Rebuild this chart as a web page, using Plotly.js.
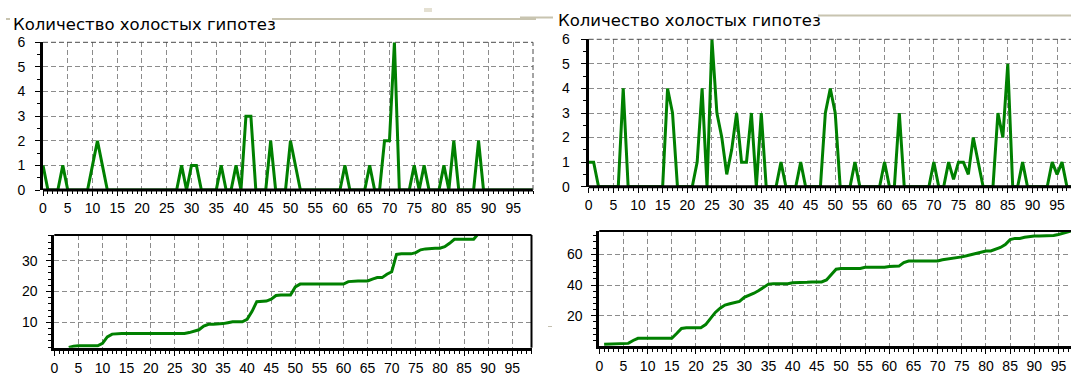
<!DOCTYPE html>
<html>
<head>
<meta charset="utf-8">
<script src="https://cdn.plot.ly/plotly-3.0.1.min.js"></script>
<style>
  html, body { margin: 0; padding: 0; background: #ffffff; overflow: hidden; }
  #chart { width: 1090px; height: 374px; }
</style>
</head>
<body>
<div id="chart"></div>
<script>
// Iteration numbers for the upper charts
const iterations = [
  0,1,2,3,4,5,6,7,8,9, 10,11,12,13,14,15,16,17,18,19,
  20,21,22,23,24,25,26,27,28,29, 30,31,32,33,34,35,36,37,38,39,
  40,41,42,43,44,45,46,47,48,49, 50,51,52,53,54,55,56,57,58,59,
  60,61,62,63,64,65,66,67,68,69, 70,71,72,73,74,75,76,77,78,79,
  80,81,82,83,84,85,86,87,88,89, 90,91,92,93,94,95,96,97,98,99
];

// Idle hypotheses per iteration, run 1
const idleRun1 = [
  1,0,0,0,1,0,0,0,0,0,
  1,2,1,0,0,0,0,0,0,0,
  0,0,0,0,0,0,0,0,1,0,
  1,1,0,0,0,0,1,0,0,1,
  0,3,3,0,0,0,2,0,0,0,
  2,1,0,0,0,0,0,0,0,0,
  0,1,0,0,0,0,1,0,0,2,
  2,6,0,0,0,1,0,1,0,0,
  0,1,0,2,0,0,0,0,2,0,
  0,0,0,0,0,0,0,0,0,0
];

// Idle hypotheses per iteration, run 2
const idleRun2 = [
  1,1,0,0,0,0,0,4,0,0,
  0,0,0,0,0,0,4,3,0,0,
  0,0,1,4,0,6,3,2,0.5,1.5,
  3,1,1,3,0,3,0,0,0,1,
  0,0,0,1,0,0,0,0,3,4,
  3,0,0,0,1,0,0,0,0,0,
  1,0,0,3,0,0,0,0,0,0,
  1,0,0,1,0.3,1,1,0.5,2,1,
  0,0,0,3,2,5,0,0,1,0,
  0,0,0,0,1,0.5,1,0,0,0
];

// Running total, run 1
const totalRun1X = [
  3,4,5,6,7,8,9,10,11,12,13,14,15,16,17,18,19,20,21,22,23,24,25,26,27,
  28,29,30,31,32,33,34,35,36,37,38,39,40,41,42,43,44,45,46,47,48,49,50,
  51,52,53,54,55,56,57,58,59,60,61,62,63,64,65,66,67,68,69,70,71,72,73,
  74,75,76,77,78,79,80,81,82,83,84,85,86,87,88
];
const totalRun1 = [
  1.9,2.3,2.4,2.4,2.4,2.4,2.4,3.2,5.3,6.2,6.4,6.4,6.4,6.4,6.4,6.4,6.4,6.4,6.4,6.4,6.4,6.4,6.4,6.4,6.4,
  6.7,7.1,7.6,8.8,9.4,9.4,9.4,9.6,9.9,10.2,10.2,10.2,11.0,13.5,16.7,16.9,16.9,17.5,18.7,18.9,18.9,18.9,21.5,
  22.4,22.4,22.4,22.4,22.4,22.4,22.4,22.4,22.4,22.4,23.2,23.4,23.4,23.4,23.4,24.0,24.5,24.5,25.6,26.4,32.0,32.2,32.2,
  32.2,32.6,33.5,33.8,34.0,34.0,34.0,34.5,35.6,36.9,36.9,36.9,36.9,36.9,38.8
];

// Running total, run 2
const totalRun2X = [
  1,2,3,4,5,6,7,8,9,10,11,12,13,14,15,16,17,18,19,20,21,22,23,24,25,
  26,27,28,29,30,31,32,33,34,35,36,37,38,39,40,41,42,43,44,45,46,47,48,49,
  50,51,52,53,54,55,56,57,58,59,60,61,62,63,64,65,66,67,68,69,70,71,72,73,
  74,75,76,77,78,79,80,81,82,83,84,85,86,87,88,89,90,91,92,93,94,95,96,97,98
];
const totalRun2 = [
  1.5,1.7,1.9,2.0,2.1,2.1,4.0,5.4,5.4,5.4,5.4,5.4,5.4,5.4,5.4,8.5,11.8,12.3,12.3,12.3,12.3,14.3,18.0,22.2,25.0,
  27.0,27.8,28.5,29.4,32.0,33.2,34.7,36.4,38.4,40.6,40.9,40.9,40.9,40.9,41.5,41.5,41.6,41.8,42.0,42.0,42.0,43.3,47.0,50.3,
  50.8,50.8,50.8,50.8,50.8,51.5,51.5,51.5,51.5,51.5,52.0,52.3,52.3,54.6,55.6,55.6,55.6,55.6,55.6,55.6,55.6,56.4,56.8,57.2,
  57.7,58.3,59.0,59.8,60.5,61.5,62.1,62.1,63.3,64.4,66.3,69.5,70.3,70.3,71.0,71.6,71.8,71.8,71.8,71.8,72.2,72.8,73.5,74.5,75.5
];

const panelTitle = 'Количество холостых гипотез';

const W = 1090, H = 374;
const px = v => v / W;                 // horizontal pixel -> paper
const py = v => (H - v) / H;           // vertical pixel (from top) -> paper

const GREEN = '#008000';
const GRID = '#8c8c8c';
const tickFont = { family: 'Liberation Sans, Arial, sans-serif', size: 14, color: '#000000' };

function xAxis(left, right, anchor, drawLine) {
  return {
    domain: [px(left), px(right)], anchor: anchor, range: [0, 99],
    tick0: 0, dtick: 5, tickfont: tickFont,
    ticks: 'outside', ticklen: 5, tickwidth: 1, tickcolor: '#000000',
    minor: { dtick: 1, ticks: 'outside', ticklen: 3, tickwidth: 1, tickcolor: '#000000', showgrid: false },
    showline: drawLine, linecolor: '#000000', linewidth: 3,
    showgrid: true, gridcolor: GRID, gridwidth: 1, griddash: '5px,3px',
    zeroline: false, fixedrange: true, ticklabelstandoff: 0
  };
}

function yAxis(bottom, top, range, dtick, minorDtick, anchor, standoff) {
  return {
    domain: [py(bottom), py(top)], anchor: anchor, range: range,
    tick0: 0, dtick: dtick, tickfont: tickFont,
    ticks: 'outside', ticklen: 5, tickwidth: 1, tickcolor: '#000000',
    minor: { dtick: minorDtick, ticks: 'outside', ticklen: 3, tickwidth: 1, tickcolor: '#000000', showgrid: false },
    showline: true, linecolor: '#000000', linewidth: 3,
    showgrid: true, gridcolor: GRID, gridwidth: 1, griddash: '5px,3px',
    zeroline: false, fixedrange: true, ticklabelstandoff: standoff
  };
}

const lineStyle = { color: GREEN, width: 3 };

const traces = [
  { x: iterations, y: idleRun1, xaxis: 'x', yaxis: 'y', mode: 'lines', line: lineStyle, hoverinfo: 'skip' },
  { x: iterations, y: idleRun2, xaxis: 'x2', yaxis: 'y2', mode: 'lines', line: lineStyle, hoverinfo: 'skip' },
  { x: totalRun1X, y: totalRun1, xaxis: 'x3', yaxis: 'y3', mode: 'lines', line: lineStyle, hoverinfo: 'skip' },
  { x: totalRun2X, y: totalRun2, xaxis: 'x4', yaxis: 'y4', mode: 'lines', line: lineStyle, hoverinfo: 'skip' }
];

const GROUP = '#c8c4b0';
const dashedEdge = (xr, yr, x0, y0, x1, y1) => ({
  type: 'line', xref: xr, yref: yr, x0: x0, y0: y0, x1: x1, y1: y1,
  line: { color: '#4a4a4a', width: 1, dash: '5px,3px' }, layer: 'above'
});
const solidEdge = (xr, yr, x0, y0, x1, y1, w) => ({
  type: 'line', xref: xr, yref: yr, x0: x0, y0: y0, x1: x1, y1: y1,
  line: { color: '#000000', width: w }, layer: 'above'
});
const groupLine = (x0, x1, y) => ({
  type: 'line', xref: 'paper', yref: 'paper', x0: px(x0), x1: px(x1), y0: py(y), y1: py(y),
  line: { color: GROUP, width: 2 }
});

const layout = {
  width: W, height: H,
  margin: { l: 0, r: 0, t: 0, b: 0 },
  paper_bgcolor: '#ffffff', plot_bgcolor: '#ffffff',
  showlegend: false,
  xaxis: xAxis(43, 533, 'y', false),
  yaxis: yAxis(190, 42.3, [0, 6], 1, 0.5, 'x', 7),
  xaxis2: xAxis(588.7, 1076.8, 'y2', false),
  yaxis2: yAxis(186.7, 39.3, [0, 6], 1, 0.5, 'x2', 8),
  xaxis3: xAxis(54.3, 531.5, 'y3', true),
  yaxis3: yAxis(347.7, 235, [1.8, 38.3], 10, 2, 'x3', 6),
  xaxis4: xAxis(599.3, 1077.8, 'y4', true),
  yaxis4: yAxis(346, 231, [0.4, 75.1], 20, 4, 'x4', 6),
  shapes: [
    // zero baselines of the upper charts, drawn over the curve
    solidEdge('x domain', 'y domain', 0, 0, 1, 0, 3),
    solidEdge('x2 domain', 'y2 domain', 0, 0, 1, 0, 3),
    dashedEdge('x domain', 'y domain', 0, 1, 1, 1),
    dashedEdge('x domain', 'y domain', 1, 0, 1, 1),
    dashedEdge('x2 domain', 'y2 domain', 0, 1, 1, 1),
    solidEdge('x3 domain', 'y3 domain', 0, 1, 1, 1, 2),
    solidEdge('x3 domain', 'y3 domain', 1, 0, 1, 1, 2),
    solidEdge('x4 domain', 'y4 domain', 0, 1, 1, 1, 2),
    groupLine(6, 10, 19),
    groupLine(272, 536, 19),
    groupLine(520, 553, 17.5),
    groupLine(818, 1090, 15.5),
    { type: 'rect', xref: 'paper', yref: 'paper', x0: px(424), x1: px(432), y0: py(12), y1: py(8),
      line: { width: 0 }, fillcolor: '#e4e0d2' },
    { type: 'line', xref: 'paper', yref: 'paper', x0: px(548), x1: px(552), y0: py(326.5), y1: py(326.5),
      line: { color: '#c4c0b0', width: 1 } }
  ],
  annotations: [
    { text: panelTitle, xref: 'paper', yref: 'paper', x: px(11), y: py(24),
      xanchor: 'left', yanchor: 'middle', showarrow: false,
      font: { family: 'DejaVu Sans, Verdana, sans-serif', size: 16.5, color: '#000000' } },
    { text: panelTitle, xref: 'paper', yref: 'paper', x: px(556), y: py(20.5),
      xanchor: 'left', yanchor: 'middle', showarrow: false,
      font: { family: 'DejaVu Sans, Verdana, sans-serif', size: 16.5, color: '#000000' } }
  ]
};

Plotly.newPlot('chart', traces, layout, { staticPlot: true, displayModeBar: false });
</script>
</body>
</html>
